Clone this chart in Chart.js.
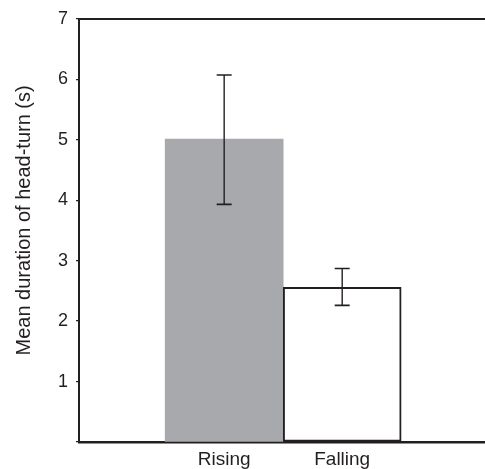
<!DOCTYPE html>
<html>
<head>
<meta charset="utf-8">
<script src="https://cdn.jsdelivr.net/npm/chart.js@4/dist/chart.umd.min.js"></script>
<style>
  html, body { margin: 0; padding: 0; background: #ffffff; }
  #wrap { position: relative; width: 485px; height: 469px; }
</style>
</head>
<body>
<div id="wrap"><canvas id="c"></canvas></div>
<script>
// ---- data ----
const categories = ['Rising', 'Falling'];
const positions = [0, 1];
const means = [5.01, 2.56];
const errLow = [3.93, 2.26];
const errHigh = [6.07, 2.87];
const yTicks = [0, 1, 2, 3, 4, 5, 6, 7];
const yTitle = 'Mean duration of head-turn (s)';

const INK = '#231f20';
const FONT = 'Arial, "Liberation Sans", Helvetica, sans-serif';

const errorBars = {
  id: 'errorBars',
  afterDatasetsDraw(chart) {
    const ctx = chart.ctx;
    const xs = chart.scales.x, ys = chart.scales.y;
    ctx.save();
    ctx.strokeStyle = INK;
    ctx.lineCap = 'butt';
    positions.forEach((p, i) => {
      const x = xs.getPixelForValue(p);
      const yl = ys.getPixelForValue(errLow[i]);
      const yh = ys.getPixelForValue(errHigh[i]);
      ctx.lineWidth = 1.4;
      ctx.beginPath();
      ctx.moveTo(x, yl); ctx.lineTo(x, yh);
      ctx.stroke();
      ctx.lineWidth = 1.6;
      ctx.beginPath();
      ctx.moveTo(x - 7.5, yl); ctx.lineTo(x + 7.5, yl);
      ctx.moveTo(x - 7.5, yh); ctx.lineTo(x + 7.5, yh);
      ctx.stroke();
    });
    ctx.restore();
  }
};

// y-axis title, placed slightly above the axis centre as in the original figure
const yTitlePlugin = {
  id: 'yTitlePlugin',
  afterDraw(chart) {
    const ctx = chart.ctx;
    const ca = chart.chartArea;
    ctx.save();
    ctx.translate(24, (ca.top + ca.bottom) / 2 - 10);
    ctx.rotate(-Math.PI / 2);
    ctx.fillStyle = INK;
    ctx.font = '20px ' + FONT;
    ctx.textAlign = 'center';
    ctx.textBaseline = 'middle';
    ctx.fillText(yTitle, 0, 0);
    ctx.restore();
  }
};

new Chart(document.getElementById('c'), {
  type: 'bar',
  data: {
    datasets: [{
      data: positions.map((p, i) => ({ x: p, y: means[i] })),
      backgroundColor: ['#a7a9ac', '#ffffff'],
      borderColor: ['#a7a9ac', INK],
      borderWidth: [0, 2],
      borderSkipped: false,
      barThickness: 118
    }]
  },
  options: {
    responsive: true,
    maintainAspectRatio: false,
    animation: false,
    layout: { padding: 0 },
    plugins: { legend: { display: false }, tooltip: { enabled: false } },
    scales: {
      x: {
        type: 'linear',
        position: 'bottom',
        offset: false,
        min: -1.23,
        max: 2.21,
        afterBuildTicks: (s) => { s.ticks = positions.map(v => ({ value: v })); },
        afterFit: (s) => { s.height = 27; },
        grid: { display: false, drawTicks: false, offset: false },
        border: { display: true, color: INK, width: 2.5 },
        ticks: {
          callback: (v) => categories[positions.indexOf(v)] ?? '',
          color: INK,
          font: { family: FONT, size: 19 },
          padding: 6,
          maxRotation: 0,
          autoSkip: false
        }
      },
      xTop: {
        type: 'linear',
        position: 'top',
        offset: false,
        min: 0, max: 1,
        afterFit: (s) => { s.height = 15; },
        grid: { display: false, drawTicks: false },
        border: { display: true, color: INK, width: 2 },
        ticks: { display: false }
      },
      y: {
        min: 0,
        max: 7,
        afterBuildTicks: (s) => { s.ticks = yTicks.map(v => ({ value: v })); },
        afterFit: (s) => { s.width = 79; },
        grid: { display: true, drawOnChartArea: false, drawTicks: true, tickLength: 3, color: INK, lineWidth: 1.2 },
        border: { display: true, color: INK, width: 2 },
        ticks: {
          callback: (v) => v === 0 ? '' : String(v),
          color: INK,
          font: { family: FONT, size: 18 },
          padding: 8
        },
        title: { display: false, text: yTitle }
      }
    }
  },
  plugins: [errorBars, yTitlePlugin]
});
</script>
</body>
</html>
